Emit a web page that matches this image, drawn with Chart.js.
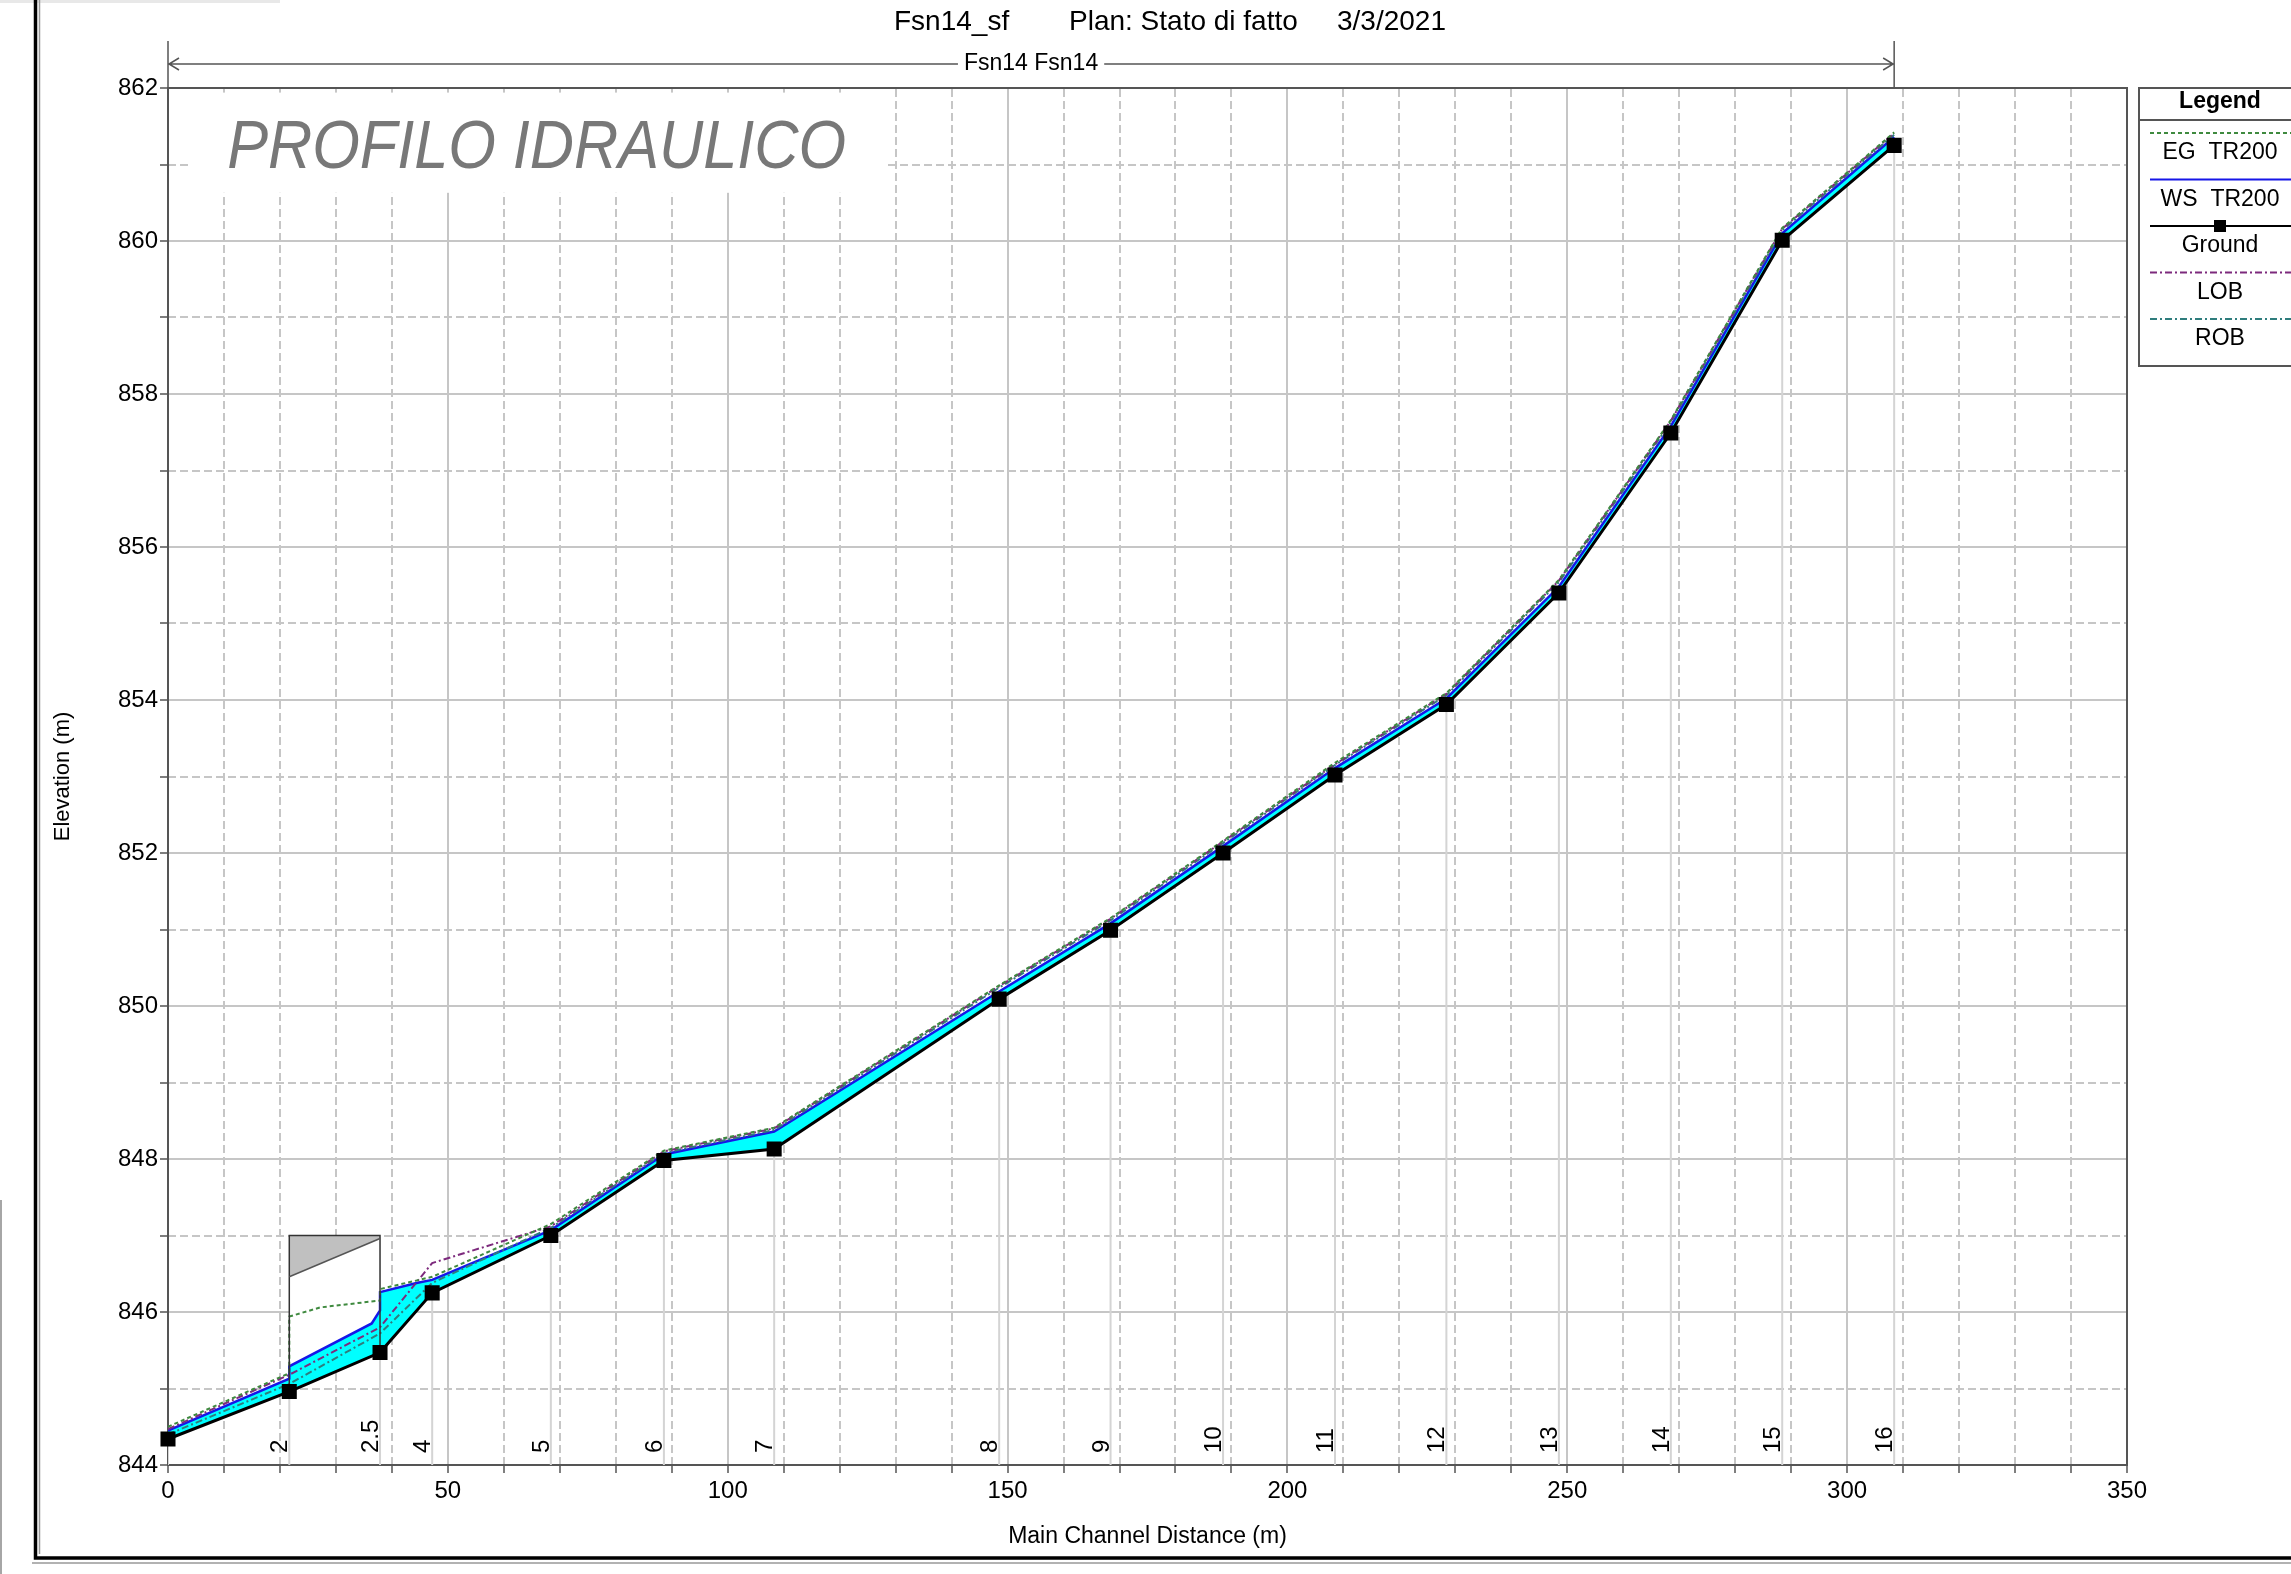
<!DOCTYPE html>
<html>
<head>
<meta charset="utf-8">
<title>Fsn14_sf - Profilo idraulico</title>
<script src="https://cdn.jsdelivr.net/npm/chart.js@4.4.1/dist/chart.umd.min.js"></script>
<style>
  html, body { margin: 0; padding: 0; background: #fff; }
  #wrap { width: 2291px; height: 1574px; }
</style>
</head>
<body>
<div id="wrap"><canvas id="profile" width="2291" height="1574"></canvas></div>
<script>
// river stations: names and main channel distance (m)
const stationNames = ['1', '2', '2.5', '4', '5', '6', '7', '8', '9', '10', '11', '12', '13', '14', '15', '16'];
const stationX = [0, 21.67, 37.88, 47.2, 68.4, 88.6, 108.3, 148.5, 168.4, 188.5, 208.5, 228.4, 248.5, 268.5, 288.4, 308.4];

// elevations at each station (m)
const ground = [844.34, 844.96, 845.47, 846.25, 847.00, 847.98, 848.13, 850.09, 850.99, 852.00, 853.02, 853.94, 855.40, 857.49, 860.01, 861.25];
const lob = [844.47, 845.18, 845.80, 846.64, 847.12, 848.10, 848.40, 850.26, 851.14, 852.15, 853.16, 854.08, 855.56, 857.65, 860.16, 861.41];
const rob = [844.40, 845.06, 845.72, 846.38, 847.10, 848.08, 848.38, 850.24, 851.12, 852.13, 853.15, 854.06, 855.54, 857.63, 860.14, 861.39];

// water surface TR200 (extra points through the culvert)
const wsX = [0, 21.67, 21.67, 36.4, 37.88, 37.88, 44.4, 47.2, 68.4, 88.6, 108.3, 148.5, 168.4, 188.5, 208.5, 228.4, 248.5, 268.5, 288.4, 308.4];
const wsY = [844.45, 845.13, 845.29, 845.85, 846.02, 846.26, 846.38, 846.42, 847.07, 848.06, 848.36, 850.19, 851.08, 852.09, 853.11, 854.02, 855.48, 857.58, 860.10, 861.36];

// energy grade TR200
const egX = [0, 21.67, 21.67, 27.2, 37.88, 37.88, 47.2, 68.4, 88.6, 108.3, 148.5, 168.4, 188.5, 208.5, 228.4, 248.5, 268.5, 288.4, 308.4];
const egY = [844.50, 845.20, 845.94, 846.06, 846.15, 846.30, 846.46, 847.15, 848.11, 848.41, 850.27, 851.15, 852.16, 853.18, 854.09, 855.57, 857.66, 860.17, 861.42];

// culvert between 2 and 2.5
const culvertX = [21.67, 37.88];
const culvertTop = [847.0, 847.0];
const culvertLowChord = [846.46, 846.96];

// axis tick labels
const xLabels = [0, 50, 100, 150, 200, 250, 300, 350];
const yLabels = [844, 846, 848, 850, 852, 854, 856, 858, 860, 862];

const FONT = "'Liberation Sans', Arial, Helvetica, sans-serif";
Chart.defaults.font.family = FONT;
Chart.defaults.color = '#000';

const pts = (xs, ys) => xs.map((v, i) => ({x: v, y: ys[i]}));
const gridGray = '#c6c6c6';
const clear = 'rgba(0,0,0,0)';

const culvertOutline = [
    {x: culvertX[0], y: ground[1]},
    {x: culvertX[0], y: culvertTop[0]},
    {x: culvertX[1], y: culvertTop[1]},
    {x: culvertX[1], y: ground[2]}
];

// thin light lines from each ground point down to the axis
const stationLines = [];
stationX.forEach((v, i) => {
    stationLines.push({x: v, y: ground[i]}, {x: v, y: yLabels[0]}, {x: v, y: null});
});

const base = {pointRadius: 0, tension: 0, fill: false, xAxisID: 'x', yAxisID: 'y'};

const datasets = [
    {...base, label: 'EG  TR200', data: pts(egX, egY), borderColor: '#3f8a3f', borderWidth: 2, borderDash: [4, 3], order: 3},
    {...base, label: 'WS  TR200', data: pts(wsX, wsY), borderColor: '#1616e8', borderWidth: 2.5, fill: 2, backgroundColor: '#00ffff', order: 6},
    {...base, label: 'Ground', data: pts(stationX, ground), borderColor: '#000', borderWidth: 3,
        pointRadius: 8.5, pointStyle: 'rect', pointBackgroundColor: '#000', pointBorderColor: '#000', clip: 12, order: 1},
    {...base, label: 'LOB', data: pts(stationX, lob), borderColor: '#7d2a7d', borderWidth: 2, borderDash: [7, 3, 2, 3], order: 4},
    {...base, label: 'ROB', data: pts(stationX, rob), borderColor: '#2f7d7d', borderWidth: 2, borderDash: [7, 3, 2, 3], order: 5},
    {...base, label: 'culvert', data: culvertOutline, borderWidth: 0, borderColor: clear, fill: 2, backgroundColor: '#fff', order: 9},
    {...base, label: 'deck', data: pts(culvertX, culvertTop), borderWidth: 0, borderColor: clear, fill: 7, backgroundColor: '#c0c0c0', order: 8},
    {...base, label: 'low chord', data: pts(culvertX, culvertLowChord), borderColor: '#555', borderWidth: 1.5, order: 2},
    {...base, label: 'culvert outline', data: culvertOutline, borderColor: '#333', borderWidth: 1.5, order: 2},
    {...base, label: 'stations', data: stationLines, borderColor: '#d4d4d4', borderWidth: 2, spanGaps: false, order: 10}
];
const legendCount = 5;

// title, reach arrow, station names, label box, legend and frame
const decorations = {
    id: 'decorations',
    beforeDatasetsDraw(chart) {
        const {ctx, scales: {x, y}} = chart;
        ctx.save();
        const bx0 = x.getPixelForValue(3.6), bx1 = x.getPixelForValue(128.1);
        const by0 = y.getPixelForValue(861.94), by1 = y.getPixelForValue(860.63);
        ctx.fillStyle = '#fff';
        ctx.fillRect(bx0, by0, bx1 - bx0, by1 - by0);
        ctx.fillStyle = '#787878';
        ctx.font = 'italic 68px ' + FONT;
        ctx.textBaseline = 'alphabetic';
        ctx.translate(bx0 + 39, by0 + 75);
        ctx.scale(0.9, 1);
        ctx.fillText('PROFILO IDRAULICO', 0, 0);
        ctx.restore();
    },
    afterDraw(chart) {
        const {ctx, chartArea, scales: {x, y}} = chart;
        ctx.save();

        // title
        ctx.fillStyle = '#000';
        ctx.font = '28px ' + FONT;
        ctx.textBaseline = 'middle';
        ctx.textAlign = 'left';
        ctx.fillText('Fsn14_sf', 894, 22);
        ctx.fillText('Plan: Stato di fatto', 1069, 22);
        ctx.fillText('3/3/2021', 1337, 22);

        // reach arrow
        const r0 = x.getPixelForValue(stationX[0]);
        const r1 = x.getPixelForValue(stationX[stationX.length - 1]);
        const ry = chartArea.top - 24;
        ctx.strokeStyle = '#555';
        ctx.lineWidth = 1.5;
        ctx.font = '23px ' + FONT;
        const reach = 'Fsn14 Fsn14';
        const mid = (r0 + r1) / 2;
        const half = ctx.measureText(reach).width / 2 + 6;
        ctx.beginPath();
        ctx.moveTo(r0, chartArea.top - 47); ctx.lineTo(r0, chartArea.top);
        ctx.moveTo(r1, chartArea.top - 47); ctx.lineTo(r1, chartArea.top);
        ctx.moveTo(r0, ry); ctx.lineTo(mid - half, ry);
        ctx.moveTo(mid + half, ry); ctx.lineTo(r1, ry);
        ctx.moveTo(r0 + 11, ry - 6); ctx.lineTo(r0 + 1, ry); ctx.lineTo(r0 + 11, ry + 6);
        ctx.moveTo(r1 - 11, ry - 6); ctx.lineTo(r1 - 1, ry); ctx.lineTo(r1 - 11, ry + 6);
        ctx.stroke();
        ctx.textAlign = 'center';
        ctx.fillText(reach, mid, ry);

        // station names, rotated, just left of each station line
        ctx.font = '24px ' + FONT;
        ctx.textAlign = 'left';
        ctx.textBaseline = 'alphabetic';
        const yb = y.getPixelForValue(yLabels[0]) - 12;
        stationX.forEach((v, i) => {
            if (v <= 0) return;
            ctx.save();
            ctx.translate(x.getPixelForValue(v) - 2, yb);
            ctx.rotate(-Math.PI / 2);
            ctx.fillText(stationNames[i], 0, 0);
            ctx.restore();
        });

        // legend box
        const lx = chartArea.right + 12, ly = chartArea.top, lw = chart.width - lx + 4, lh = 278;
        ctx.strokeStyle = '#555';
        ctx.lineWidth = 2;
        ctx.strokeRect(lx, ly, lw, lh);
        ctx.beginPath();
        ctx.moveTo(lx, ly + 32); ctx.lineTo(lx + lw, ly + 32);
        ctx.stroke();
        const cx = lx + 81;
        ctx.textAlign = 'center';
        ctx.textBaseline = 'middle';
        ctx.font = 'bold 23px ' + FONT;
        ctx.fillText('Legend', cx, ly + 14);
        ctx.font = '23px ' + FONT;
        chart.data.datasets.slice(0, legendCount).forEach((ds, k) => {
            const sy = ly + 45 + k * 46.5;
            ctx.save();
            ctx.strokeStyle = ds.borderColor;
            ctx.lineWidth = Math.min(ds.borderWidth, 2);
            ctx.setLineDash(ds.borderDash || []);
            ctx.beginPath();
            ctx.moveTo(lx + 11, sy); ctx.lineTo(lx + lw, sy);
            ctx.stroke();
            ctx.restore();
            if (ds.pointStyle === 'rect') {
                ctx.fillStyle = '#000';
                ctx.fillRect(cx - 6, sy - 6, 12, 12);
            }
            ctx.fillStyle = '#000';
            ctx.fillText(ds.label, cx, sy + 20);
        });

        // window frame
        ctx.fillStyle = '#e8e8e8';
        ctx.fillRect(0, 0, 280, 3);
        ctx.strokeStyle = '#888';
        ctx.lineWidth = 1.5;
        ctx.beginPath();
        ctx.moveTo(1, 1200); ctx.lineTo(1, chart.height);
        ctx.stroke();
        ctx.strokeStyle = '#000';
        ctx.lineWidth = 3.5;
        ctx.beginPath();
        ctx.moveTo(35.5, 0); ctx.lineTo(35.5, 1558); ctx.lineTo(chart.width, 1558);
        ctx.stroke();
        ctx.strokeStyle = '#999';
        ctx.lineWidth = 1.5;
        ctx.beginPath();
        ctx.moveTo(39.5, 0); ctx.lineTo(39.5, 1554);
        ctx.moveTo(32, 1563); ctx.lineTo(chart.width, 1563);
        ctx.stroke();
        ctx.restore();
    }
};

const config = {
    type: 'line',
    data: {datasets: datasets},
    options: {
        responsive: false,
        animation: false,
        devicePixelRatio: 1,
        layout: {padding: {left: 0, top: 88, right: 164, bottom: 0}},
        plugins: {
            legend: {display: false},
            tooltip: {enabled: false},
            title: {display: false}
        },
        scales: {
            x: {
                type: 'linear', position: 'bottom', min: 0, max: 350,
                ticks: {
                    stepSize: 10, autoSkip: false, maxRotation: 0, padding: 4,
                    font: {size: 24},
                    callback: v => xLabels.includes(v) ? String(v) : ''
                },
                grid: {
                    color: c => (c.tick && c.tick.value % 50 === 0) ? gridGray : clear,
                    lineWidth: 2, tickColor: '#555', tickLength: 8, tickWidth: 1.5
                },
                border: {color: '#555', width: 2},
                title: {display: true, text: 'Main Channel Distance (m)', font: {size: 23}, padding: {top: 0, bottom: 24}},
                afterFit: s => { s.height = 109; }
            },
            y: {
                type: 'linear', position: 'left', min: 844, max: 862,
                ticks: {
                    stepSize: 1, autoSkip: false, padding: 2,
                    font: {size: 24},
                    callback: v => yLabels.includes(v) ? String(v) : ''
                },
                grid: {
                    color: c => (c.tick && c.tick.value % 2 === 0) ? gridGray : clear,
                    lineWidth: 2, tickColor: '#555', tickLength: 8, tickWidth: 1.5
                },
                border: {color: '#555', width: 2},
                title: {display: true, text: 'Elevation (m)', font: {size: 22}, padding: {top: 50, bottom: 0}},
                afterFit: s => { s.width = 168; }
            },
            xg: {
                type: 'linear', position: 'top', min: 0, max: 350,
                ticks: {display: false, stepSize: 10},
                grid: {
                    color: c => (c.tick && c.tick.value % 50 !== 0) ? gridGray : clear,
                    lineWidth: 2, drawTicks: false
                },
                border: {display: true, color: '#555', width: 2, dash: [8, 4]}
            },
            yg: {
                type: 'linear', position: 'right', min: 844, max: 862,
                ticks: {display: false, stepSize: 1},
                grid: {
                    color: c => (c.tick && c.tick.value % 2 !== 0) ? gridGray : clear,
                    lineWidth: 2, drawTicks: false
                },
                border: {display: true, color: '#555', width: 2, dash: [8, 4]}
            }
        }
    },
    plugins: [decorations]
};

new Chart(document.getElementById('profile'), config);
</script>
</body>
</html>
